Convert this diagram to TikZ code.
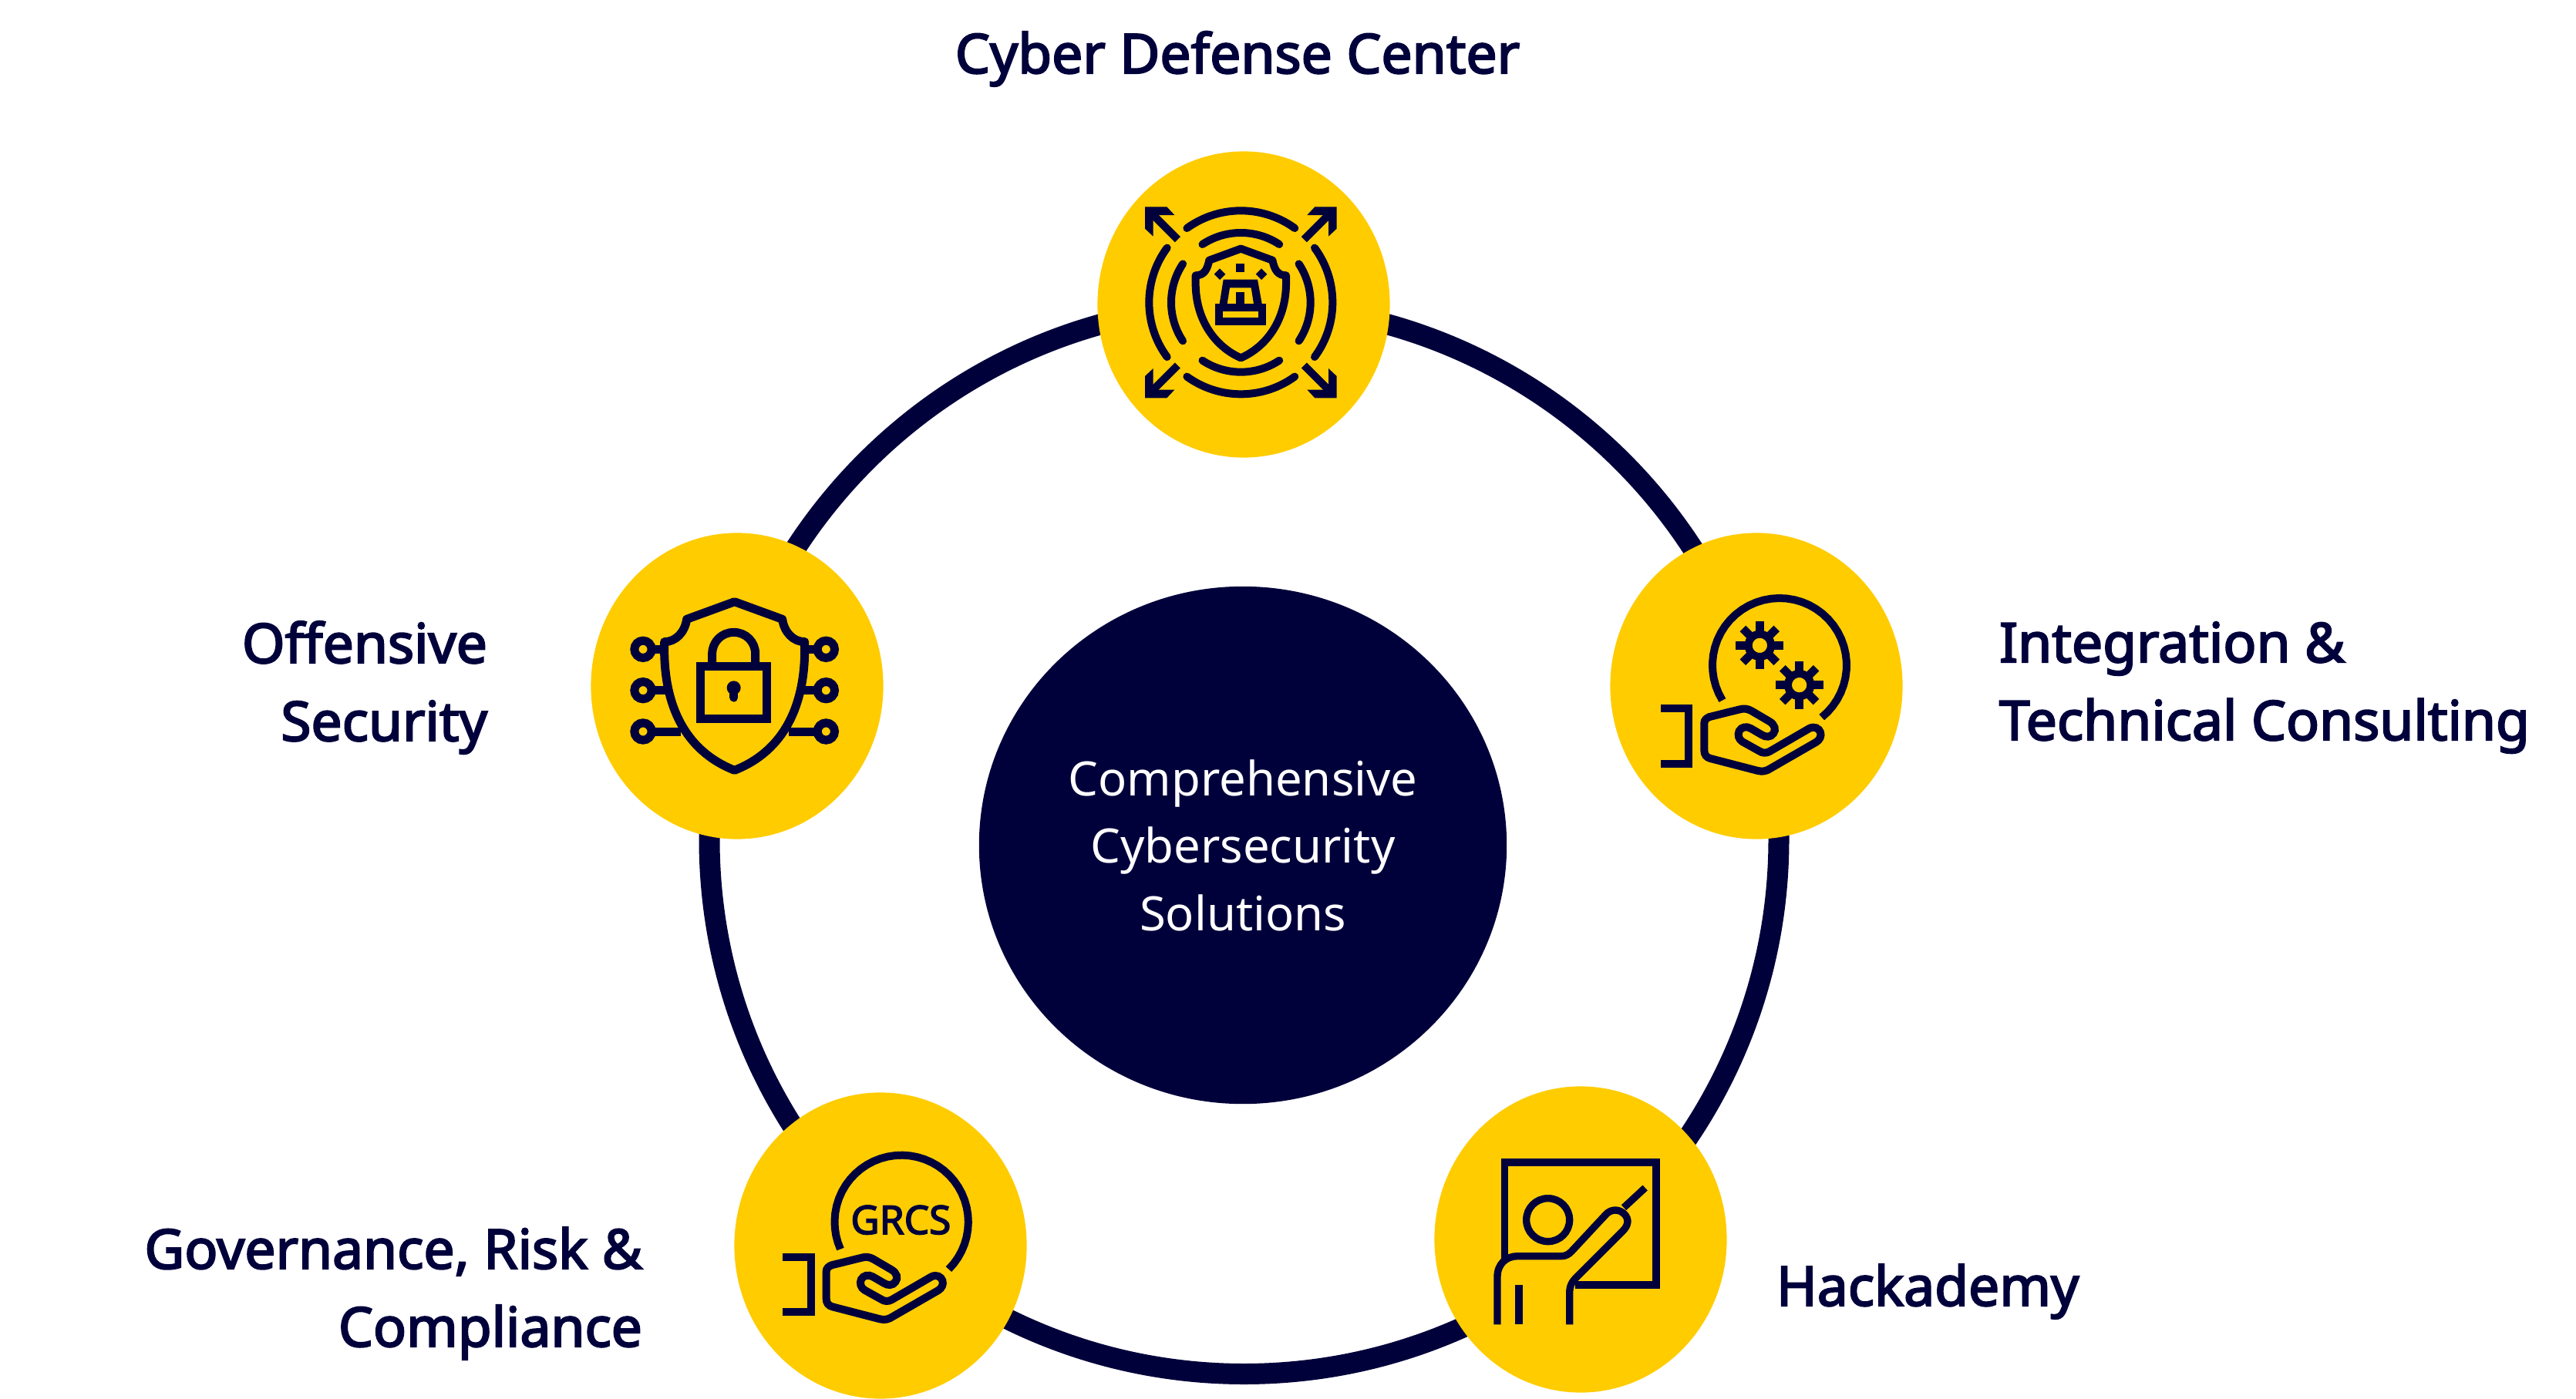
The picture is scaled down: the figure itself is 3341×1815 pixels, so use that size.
\documentclass[tikz,border=0pt]{standalone}
\usepackage{fontspec}
\setmainfont{Noto Sans}
\newfontfamily\lblfont[FakeBold=3,FakeStretch=1.004]{Noto Sans}
\newfontfamily\grcsfont[FakeBold=3]{Noto Sans}
\usetikzlibrary{shapes.geometric}
\definecolor{navy}{HTML}{00003B}
\definecolor{gold}{HTML}{FFCC00}
\newcommand{\icarc}[6][]{\draw[#1] plot[variable=\t,domain=#5:#6,samples=40] ({#2+#4*cos(\t)},{#3-#4*sin(\t)});}
\newcommand{\gearicon}[2]{%
  \draw[wA] (#1,#2) circle[radius=44];
  \foreach \a in {0,45,...,315}{\draw[line width=9.1pt/3,navy] ({#1+52*cos(\a)},{#2+52*sin(\a)}) -- ({#1+93*cos(\a)},{#2+93*sin(\a)});}
}
\newcommand{\handicon}{%
  \draw[wA,miter limit=10] (222,718) -- (331,718) -- (331,933) -- (222,933);
  \draw[wA] (391,790) -- (391,775) .. controls (391,762) and (400,755) .. (412,750) -- (525,722) .. controls (545,716) and (560,718) .. (575,727) -- (645,768) .. controls (665,780) and (672,800) .. (660,815) .. controls (650,830) and (630,830) .. (615,820) -- (572,795) .. controls (555,785) and (535,790) .. (527,805) .. controls (520,820) and (525,838) .. (540,847) -- (603,882) .. controls (617,892) and (632,892) .. (645,885) -- (800,795) .. controls (820,785) and (838,795) .. (843,810) .. controls (848,825) and (840,840) .. (827,848) -- (650,950) .. controls (635,960) and (620,965) .. (600,960) -- (415,912) .. controls (400,908) and (391,898) .. (391,880) -- cycle;
}
\tikzset{
  wA/.style={draw=navy,line width=2.845pt},
  wB/.style={draw=navy,line width=2.655pt},
  wC/.style={draw=navy,line width=3.13pt},
  rnd/.style={wA,line cap=round},
  goldcirc/.style={ellipse,fill=gold,draw=none,inner sep=0pt,outer sep=0pt,minimum width=3.79cm,minimum height=3.97cm},
  hublabel/.style={ellipse,fill=navy,draw=none,inner sep=0pt,outer sep=0pt,minimum width=6.84cm,minimum height=6.71cm},
  lbl/.style={text=navy,inner sep=0pt,outer sep=0pt,font=\fontsize{20.2}{28.73}\selectfont\lblfont},
}
\begin{document}
\begin{tikzpicture}[x=0.01cm,y=-0.01cm]
\useasboundingbox (0,0) rectangle (3341,1815);
% ring
\draw[navy,line width=7.68pt] (1613.5,1089) ellipse[x radius=693.5,y radius=693.5];
% hub
\node[hublabel,text=white,align=center,font=\fontsize{17.5}{24.9}\selectfont] (hub) at (1612,1096.5) {Comprehensive\\Cybersecurity\\Solutions};
% circles
\node[goldcirc] (cdc) at (1613,395) {};
\node[goldcirc] (itc) at (2278,890) {};
\node[goldcirc] (hack) at (2050,1608) {};
\node[goldcirc] (grc) at (1142,1616) {};
\node[goldcirc] (off) at (956,890) {};
% labels
\node[lbl,anchor=base] (lcdc) at (1605,95) {Cyber Defense Center};
\node[lbl,anchor=west,align=left] (litc) at (2593,892) {Integration \&\\Technical Consulting};
\node[lbl,anchor=base west] (lhack) at (2304,1694) {Hackademy};
\node[lbl,anchor=east,align=right] (lgrc) at (833,1678) {Governance, Risk \&\\Compliance};
\node[lbl,anchor=east,align=right] (loff) at (632,892) {Offensive\\Security};
% ---- icon 1
\begin{scope}[shift={(1400,180)},scale=1/3]
  \icarc[rnd]{628}{637}{357}{54}{126}
  \icarc[rnd]{628}{637}{357}{234}{306}
  \icarc[rnd]{628}{637}{357}{143.5}{216.5}
  \icarc[rnd]{628}{637}{357}{-36.5}{36.5}
  \icarc[rnd]{628}{637}{271}{56.5}{123.5}
  \icarc[rnd]{628}{637}{271}{236.5}{303.5}
  \icarc[rnd]{628}{637}{271}{146.4}{213.6}
  \icarc[rnd]{628}{637}{271}{-33.6}{33.6}
  \foreach \sx/\sy in {1/1,-1/1,1/-1,-1/-1}{
    \begin{scope}[shift={(628,637)},xscale=\sx,yscale=\sy]
      \fill[navy] (-373,-372) -- (-288,-372) -- (-258,-340) -- (-341,-340) -- (-341,-257) -- (-373,-287) -- cycle;
      \draw[wA] (-246,-245) -- (-356,-355);
    \end{scope}
  }
  \draw[wA,line join=round] (628,428) -- (505,473) .. controls (497,510) and (485,532) .. (452,532) -- (452,570) .. controls (455,710) and (530,810) .. (628,853) .. controls (726,810) and (801,710) .. (804,570) -- (804,532) .. controls (771,532) and (759,510) .. (751,473) -- cycle;
  \fill[navy] (610,487) rectangle (643,520);
  \fill[navy] (546,505) -- (568,527) -- (546,549) -- (524,527) -- cycle;
  \fill[navy] (708,505) -- (730,527) -- (708,549) -- (686,527) -- cycle;
  \draw[wA] (542,657) rectangle (712,712);
  \fill[navy,even odd rule] (560,548) -- (693,548) -- (710,642) -- (545,642) -- cycle (585,580) -- (668,580) -- (678,642) -- (575,642) -- cycle;
  \fill[navy] (610,597) rectangle (643,642);
\end{scope}
% ---- icon 2
\begin{scope}[shift={(2080,680)},scale=1/3]
  \icarc[wA]{684}{549}{261}{-51}{211.6}
  \gearicon{607}{472}
  \gearicon{761}{626}
  \handicon
\end{scope}
% ---- icon 3
\begin{scope}[shift={(1850,1400)},scale=1/3]
  \draw[wB] (304,700) -- (304,324) -- (894,324) -- (894,801) -- (580,801);
  \draw[wB] (473,548) circle[radius=84];
  \draw[wB] (276,955) -- (276,770) .. controls (276,720) and (310,689) .. (355,689) -- (525,689) .. controls (540,689) and (553,683) .. (565,670) -- (700,525) .. controls (720,505) and (750,505) .. (770,525) .. controls (790,545) and (785,570) .. (765,590) -- (585,770) .. controls (565,790) and (557,805) .. (557,835) -- (557,955);
  \draw[wB] (360,800) -- (360,955);
  \draw[wB] (768,500) -- (851,423);
\end{scope}
% ---- icon 4
\begin{scope}[shift={(950,1410)},scale=1/3]
  \icarc[wA]{657.5}{526}{260}{-45}{204}
  \begin{scope}[shift={(-26,-56)}]
    \handicon
  \end{scope}
  \node[text=navy,inner sep=0pt,font=\fontsize{14.6}{16}\selectfont\grcsfont] (grcs) at (655,518) {GRCS};
\end{scope}
% ---- icon 5
\begin{scope}[shift={(760,680)},scale=1/3]
  \foreach \yy/\xl/\xr in {487/305/851,647/318/840,807/368/788}{
    \draw[wC] (222,\yy) circle[radius=33.5];
    \draw[wC] (934,\yy) circle[radius=33.5];
    \draw[wC] (268,\yy) -- (\xl,\yy);
    \draw[wC] (888,\yy) -- (\xr,\yy);
  }
  \draw[wC,line join=round] (578,302) -- (392,370) .. controls (385,420) and (350,458) .. (305,458) -- (305,500) .. controls (308,700) and (380,880) .. (578,958) .. controls (776,880) and (848,700) .. (851,500) -- (851,458) .. controls (806,458) and (771,420) .. (764,370) -- cycle;
  \draw[wC] (445.5,554.5) rectangle (704.5,756.5);
  \draw[wC] (491,540) -- (491,505) .. controls (491,458) and (528,421) .. (575,421) .. controls (622,421) and (659,458) .. (659,505) -- (659,540);
  \fill[navy] (575,637) circle[radius=27];
  \draw[navy,line width=3.13pt,line cap=round] (575,640) -- (575,675);
\end{scope}
\end{tikzpicture}
\end{document}
